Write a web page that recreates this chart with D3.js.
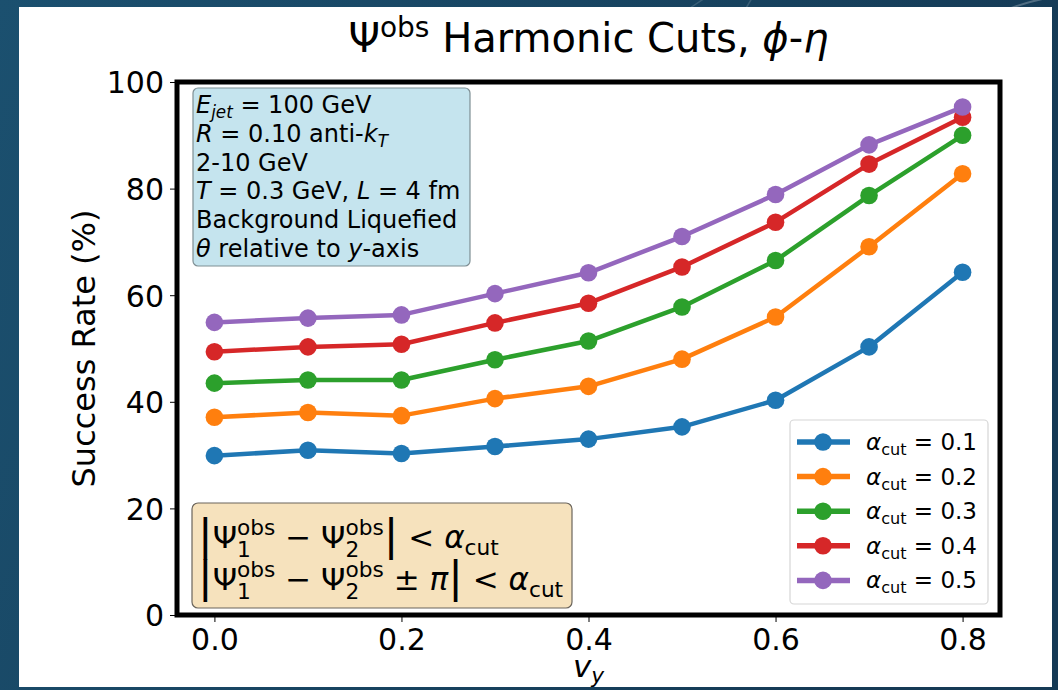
<!DOCTYPE html>
<html>
<head>
<meta charset="utf-8">
<script src="https://cdn.jsdelivr.net/npm/d3@7"></script>
<style>
  body { margin: 0; background: #1a4d6c; }
  svg text { font-family: "DejaVu Sans", sans-serif; fill: #000; }
</style>
</head>
<body>
<div id="myfigure"></div>
<script>
// data
var vy = [0.0, 0.1, 0.2, 0.3, 0.4, 0.5, 0.6, 0.7, 0.8];
var cut01 = [29.9, 30.9, 30.3, 31.6, 33.0, 35.3, 40.3, 50.3, 64.3];
var cut02 = [37.1, 38.0, 37.4, 40.6, 42.9, 48.0, 55.9, 69.1, 82.8];
var cut03 = [43.5, 44.1, 44.1, 47.9, 51.4, 57.8, 66.5, 78.7, 90.0];
var cut04 = [49.4, 50.3, 50.8, 54.8, 58.5, 65.3, 73.7, 84.6, 93.4];
var cut05 = [54.9, 55.7, 56.3, 60.3, 64.2, 71.0, 78.9, 88.2, 95.3];
var cutLabels = ["0.1", "0.2", "0.3", "0.4", "0.5"];
var colors = ["#1f77b4", "#ff7f0e", "#2ca02c", "#d62728", "#9467bd"];
var xTicks = [0.0, 0.2, 0.4, 0.6, 0.8];
var yTicks = [0, 20, 40, 60, 80, 100];

var series = [cut01, cut02, cut03, cut04, cut05];

var W = 1058, H = 690;
var ax = { left: 177, right: 1000, top: 82, bottom: 615 };

var svg = d3.select("#myfigure").append("svg")
    .attr("width", W).attr("height", H);

// slide background
var defs = svg.append("defs");
var grad = defs.append("linearGradient").attr("id", "bg")
    .attr("x1", "0").attr("y1", "0").attr("x2", "1").attr("y2", "0.3");
grad.append("stop").attr("offset", "0").attr("stop-color", "#1b506f");
grad.append("stop").attr("offset", "1").attr("stop-color", "#153a55");
svg.append("rect").attr("width", W).attr("height", H).attr("fill", "url(#bg)");
svg.append("path").attr("d", "M983,22 Q1010,4 1058,-4").attr("fill", "none")
    .attr("stroke", "rgba(255,255,255,0.25)").attr("stroke-width", 2);
svg.append("path").attr("d", "M690,8 L705,-2 M745,10 L752,-2").attr("fill", "none")
    .attr("stroke", "rgba(255,255,255,0.15)").attr("stroke-width", 1.5);

// white card
svg.append("rect").attr("x", 19).attr("y", 7).attr("width", 1033).attr("height", 680).attr("fill", "#fff");

var x = d3.scaleLinear().domain([-0.04, 0.84]).range([ax.left, ax.right]);
var y = d3.scaleLinear().domain([0, 100]).range([ax.bottom, ax.top]);

// writes a run of pieces (plain, italic, sub/sup) into one text node
function rich(parent, x0, y0, size, parts) {
    var t = parent.append("text").attr("x", x0).attr("y", y0).style("font-size", size + "px");
    var shift = 0;
    parts.forEach(function(p) {
        var s = p.sc ? size * p.sc : size;
        var target = p.dy ? p.dy * size : 0;
        var span = t.append("tspan")
            .style("font-size", s + "px")
            .style("font-style", p.it ? "italic" : "normal")
            .attr("dy", target - shift)
            .text(p.t);
        if (p.dx) span.attr("dx", p.dx * size);
        shift = target;
    });
    return t;
}

// axes frame
svg.append("rect")
    .attr("x", ax.left).attr("y", ax.top)
    .attr("width", ax.right - ax.left).attr("height", ax.bottom - ax.top)
    .attr("fill", "none").attr("stroke", "#000").attr("stroke-width", 5);

var xAxis = d3.axisBottom(x).tickValues(xTicks).tickFormat(d3.format(".1f")).tickSize(5).tickPadding(6);
var yAxis = d3.axisLeft(y).tickValues(yTicks).tickFormat(d3.format("d")).tickSize(5).tickPadding(6);

var gx = svg.append("g").attr("transform", "translate(0," + (ax.bottom + 2) + ")").call(xAxis);
var gy = svg.append("g").attr("transform", "translate(" + (ax.left - 2) + ",0)").call(yAxis);
[gx, gy].forEach(function(g) {
    g.select(".domain").remove();
    g.selectAll("line").attr("stroke", "#000").attr("stroke-width", 1);
    g.selectAll("text").attr("font-family", null).style("font-size", "30px").attr("fill", "#000");
});
gx.selectAll("text").attr("dy", "0.74em");
gy.selectAll("text").attr("dy", "0.36em");

// title
var title = rich(svg, 0, 52, 40, [
    { t: "Ψ" }, { t: "obs", sc: 0.7, dy: -0.38 }, { t: " Harmonic Cuts, " }, { t: "ϕ", it: true }, { t: "-" }, { t: "η", it: true }
]);
var tw = title.node().getComputedTextLength();
title.attr("x", (ax.left + ax.right) / 2 - tw / 2);

// axis labels
svg.append("text")
    .attr("transform", "translate(95," + ((ax.top + ax.bottom) / 2) + ") rotate(-90)")
    .style("text-anchor", "middle").style("font-size", "32px")
    .text("Success Rate (%)");
var xl = rich(svg, 0, 677, 31, [{ t: "v", it: true }, { t: "y", it: true, sc: 0.7, dy: 0.18 }]);
xl.attr("x", (ax.left + ax.right) / 2 - xl.node().getComputedTextLength() / 2);

// lines and markers
var line = d3.line()
    .x(function(d, i) { return x(vy[i]); })
    .y(function(d) { return y(d); });

series.forEach(function(s, k) {
    svg.append("path")
        .datum(s)
        .attr("d", line)
        .attr("fill", "none")
        .attr("stroke", colors[k])
        .attr("stroke-width", 4.5)
        .attr("stroke-linejoin", "round");
    svg.selectAll(".m" + k)
        .data(s)
        .enter().append("circle")
        .attr("class", "m" + k)
        .attr("cx", function(d, i) { return x(vy[i]); })
        .attr("cy", function(d) { return y(d); })
        .attr("r", 8.8)
        .attr("fill", colors[k]);
});

// info box (top left)
svg.append("rect").attr("x", 193).attr("y", 88).attr("width", 277).attr("height", 178)
    .attr("rx", 5).attr("fill", "#c5e4ee").attr("stroke", "#7f8f94").attr("stroke-width", 1.2);
var infoLines = [
    [{ t: "E", it: true }, { t: "jet", it: true, sc: 0.7, dy: 0.22 }, { t: " = 100 GeV" }],
    [{ t: "R", it: true }, { t: " = 0.10 anti-" }, { t: "k", it: true }, { t: "T", it: true, sc: 0.7, dy: 0.22 }],
    [{ t: "2-10 GeV" }],
    [{ t: "T", it: true }, { t: " = 0.3 GeV, " }, { t: "L", it: true }, { t: " = 4 fm" }],
    [{ t: "Background Liquefied" }],
    [{ t: "θ", it: true }, { t: " relative to " }, { t: "y", it: true }, { t: "-axis" }]
];
infoLines.forEach(function(l, i) {
    rich(svg, 196, 113 + i * 28.8, 24, l);
});

// cut formula box (bottom left)
svg.append("rect").attr("x", 192).attr("y", 503).attr("width", 380).attr("height", 105)
    .attr("rx", 6).attr("fill", "#f6e2bd").attr("stroke", "#6b655c").attr("stroke-width", 1.2);
function psiPair(idx) {
    return [{ t: "Ψ" }, { t: idx, sc: 0.7, dy: 0.3 }, { t: "obs", sc: 0.7, dy: -0.42, dx: -0.445 }];
}
var bar = { t: "|", sc: 1.4, dy: 0.08 };
var f1 = [bar].concat(psiPair("1"), [{ t: " − " }], psiPair("2"), [bar, { t: " < " }, { t: "α", it: true }, { t: "cut", sc: 0.7, dy: 0.22 }]);
var f2 = [bar].concat(psiPair("1"), [{ t: " − " }], psiPair("2"), [{ t: " ± " }, { t: "π", it: true }, bar, { t: " < " }, { t: "α", it: true }, { t: "cut", sc: 0.7, dy: 0.22 }]);
rich(svg, 198, 548, 31, f1);
rich(svg, 198, 590, 31, f2);

// legend
svg.append("rect").attr("x", 790).attr("y", 420).attr("width", 198).attr("height", 184)
    .attr("rx", 4).attr("fill", "rgba(255,255,255,0.8)").attr("stroke", "#d6d6d6").attr("stroke-width", 1.2);
cutLabels.forEach(function(c, k) {
    var ly = 442 + k * 34.6;
    svg.append("line").attr("x1", 797).attr("x2", 850).attr("y1", ly).attr("y2", ly)
        .attr("stroke", colors[k]).attr("stroke-width", 5.5);
    svg.append("circle").attr("cx", 823).attr("cy", ly).attr("r", 8.8).attr("fill", colors[k]);
    rich(svg, 866, ly + 8, 23, [{ t: "α", it: true }, { t: "cut", sc: 0.7, dy: 0.22 }, { t: " = " + c }]);
});
</script>
</body>
</html>
